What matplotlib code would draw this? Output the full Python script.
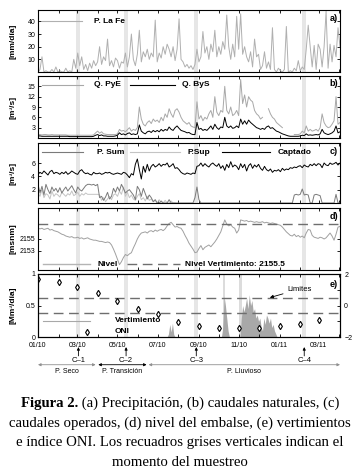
import numpy as np
import matplotlib
matplotlib.use("Agg")
import matplotlib.pyplot as plt
import matplotlib.dates as mdates
from matplotlib.transforms import blended_transform_factory

plt.rcParams['font.family'] = ['Liberation Sans', 'DejaVu Sans']
plt.rcParams['font.size'] = 5.5

start = np.datetime64('2010-01-01')
x_end = np.datetime64('2011-04-02')

precip = [0, 2, 12, 0, 1, 0, 0, 2, 0, 4,
          0, 1, 0, 0, 3, 0, 1, 0, 10, 3,
          15, 5, 12, 2, 6, 1, 7, 3, 9, 5,
          8, 20, 6, 12, 9, 26, 5, 9, 4, 11,
          9, 3, 8, 7, 15, 4, 12, 30, 10, 5,
          14, 33, 8, 16, 12, 18, 10, 15, 12, 41,
          8, 15, 11, 20, 14, 22, 18, 12, 20, 9,
          18, 42, 10, 8, 4, 6, 3, 5, 2, 6,
          18, 8, 12, 32, 15, 20, 10, 22, 16, 33,
          12, 20, 14, 24, 18, 45, 20, 10, 22, 12,
          44, 18, 46, 14, 20, 12, 8, 16, 4, 26,
          12, 14, 2, 5, 16, 3, 8, 2, 35, 2,
          0, 3, 1, 0, 2, 36, 0, 1, 0, 3,
          1, 9, 1, 4, 2, 18, 37, 20, 4, 21,
          2, 22, 18, 4, 20, 48, 3, 22, 8, 21,
          12, 35, 20]

q_pye = [1.0, 1.0, 0.9, 1.0, 1.0, 0.9, 0.9, 1.0, 0.9, 0.9,
         0.9, 0.9, 0.9, 0.9, 0.9, 0.8, 0.8, 0.8, 0.8, 0.8,
         0.8, 0.8, 0.8, 0.8, 0.8, 0.8, 0.8, 0.8, 0.9, 1.5,
         2.0, 1.4, 1.8, 1.2, 1.1, 1.0, 1.0, 1.0, 1.0, 1.0,
         1.2, 2.5, 2.0, 2.2, 1.8, 2.4, 3.0, 2.0, 2.5, 2.2,
         3.0, 9.0, 5.5, 4.0, 3.5, 4.5, 5.0, 4.2, 5.5, 4.8,
         5.2, 4.5, 6.0, 5.0, 7.0, 6.0, 8.5, 7.0, 6.0, 8.0,
         8.5, 7.5, 6.0, 5.0, 4.5, 4.0, 4.5, 3.5, 3.2, 3.0,
         10.5, 5.5, 6.5, 5.0, 6.0, 5.5, 7.0, 8.0, 6.0, 12.0,
         7.5, 6.5, 8.0, 7.5, 15.0, 8.0, 7.0, 9.0, 6.5, 7.0,
         8.0, 6.5, 17.0, 10.0, 12.5, 9.0, 12.0, 11.0, 10.5, 8.0,
         7.0, 6.5, 5.5, 6.0, np.nan, np.nan, 8.5, 7.0, 6.0, 5.5,
         4.5, 4.0, 3.5, 3.0, np.nan, np.nan, np.nan, np.nan, np.nan, 1.0,
         1.0, 1.0, 1.2, 2.0, 1.5, 3.5, 2.0, 2.5, 2.0, 2.2,
         2.5, 2.0, 3.0, 7.0, 4.5, 3.5, 3.0, 3.2, 4.0, 5.0,
         12.0, 4.0, 4.5]

q_bys = [0.6, 0.6, 0.5, 0.5, 0.5, 0.5, 0.5, 0.5, 0.5, 0.5,
         0.5, 0.5, 0.5, 0.5, 0.5, 0.5, 0.4, 0.4, 0.4, 0.4,
         0.4, 0.4, 0.4, 0.4, 0.4, 0.4, 0.4, 0.4, 0.5, 0.8,
         1.0, 0.7, 0.9, 0.6, 0.6, 0.5, 0.5, 0.5, 0.5, 0.6,
         0.8, 1.5, 1.0, 1.2, 0.9, 1.3, 1.5, 1.0, 1.2, 1.0,
         1.2, 3.8, 2.0, 1.5, 1.2, 1.8, 2.0, 1.6, 2.2, 1.8,
         2.2, 1.8, 2.5, 2.0, 2.5, 2.2, 3.2, 2.5, 2.2, 3.0,
         3.5, 2.8, 2.2, 2.0, 1.8, 1.5, 1.6, 1.2, 1.0, 1.0,
         4.5, 2.5, 2.8, 2.2, 2.5, 2.2, 2.8, 3.5, 2.5, 4.0,
         3.0, 2.5, 3.2, 3.0, 6.0, 3.5, 3.0, 3.5, 2.8, 3.0,
         3.5, 3.0, 5.5, 4.0, 5.0, 4.0, 5.2, 4.5, 4.0, 3.5,
         3.0, 2.8, 2.5, 2.8, 2.5, 3.2, 3.5, 2.8, 3.0, 2.5,
         2.0, 1.8, 1.5, 1.2, 1.0, 0.8, 0.6, 0.5, 0.5, 0.5,
         0.5, 0.5, 0.6, 0.8, 0.7, 1.2, 0.8, 0.9, 0.8, 0.9,
         1.0, 0.9, 1.2, 2.5, 1.5, 1.2, 1.0, 1.2, 1.5, 2.0,
         3.5, 1.5, 1.8]

captado = [4.3, 4.6, 4.4, 4.8, 4.5, 4.2, 4.7, 4.9, 4.4, 4.6,
           4.5, 4.3, 4.6, 4.4, 4.7, 4.3, 4.5, 4.8, 4.6, 4.4,
           4.3, 4.8, 5.0, 4.6, 4.4, 4.5, 4.3, 4.2, 4.6, 4.4,
           4.4, 4.5, 4.3, 4.4, 4.6, 4.5, 4.6, 4.4, 4.3, 4.4,
           4.5, 4.4, 4.3, 4.6, 4.5, 4.2, 3.8, 4.4, 4.2, 5.8,
           6.6, 5.0, 3.6, 5.5, 4.6, 5.8, 4.8, 5.5, 5.8, 5.4,
           5.6, 5.9, 5.5, 5.8, 5.7, 6.0, 5.4, 5.6, 5.9, 5.2,
           5.3, 5.0, 4.6, 4.4, 4.3, 4.5, 4.4, 4.3, 4.5, 4.4,
           5.5, 5.6, 6.0, 5.5, 5.9, 5.6, 5.4, 5.8, 6.0, 5.7,
           5.5, 5.9, 5.2, 5.6, 4.9, 5.8, 5.3, 6.2, 5.4, 5.7,
           5.5, 5.0, 5.9, 5.3, 5.8, 4.8, 5.6, 5.9, 5.2, 5.7,
           5.4, 5.8, 5.2, 4.9, 5.5, 5.0, 4.8, 5.1, 4.6, 4.9,
           4.8, 5.0, 4.7, 5.2, 4.9, 5.1, 5.0, 5.3, 5.2, 5.4,
           5.3, 5.5, 5.6, 5.3, 5.7, 5.5, 5.4, 5.8, 5.6, 5.9,
           5.6, 5.9, 5.8, 5.3, 6.0, 5.7, 5.6, 6.0, 5.8, 5.9,
           6.1, 5.7, 6.0]

p_sum = [2.8, 1.5, 2.5, 1.2, 2.8, 2.0, 1.4, 2.4, 1.8, 2.2,
         1.6, 2.3, 1.5, 2.0, 2.4, 1.8, 2.2, 2.6, 2.0, 1.5,
         2.4, 2.0, 1.8, 2.2, 2.6, 2.8, 2.8, 2.7, 2.8, 2.6,
         2.8, 0.8, 1.0, 0.4, 0.9, 1.6, 0.6, 1.0, 2.2, 1.6,
         2.4, 1.8, 2.8, 2.2, 1.5, 1.8, 2.0, 1.6, 1.2, 0.5,
         2.5, 2.0, 1.0, 2.2, 1.4, 0.6, 1.2, 0.8, 0.2, 0.5,
         0, 0, 0.3, 0, 0, 0, 0.5, 0, 0, 0,
         0, 0, 0, 0, 0, 0, 0, 0, 0, 0.8,
         2.4, 0.5, 0, 0, 0, 0, 0, 0, 0, 0,
         0, 0, 0, 0, 0, 0, 0, 0, 0, 0,
         0, 0, 0, 0, 0, 0, 0, 0, 0, 0,
         0, 0, 0, 0, 0, 0, 0, 0, 0, 0,
         0, 0, 0, 0, 0, 0, 0, 0, 0, 1.2,
         1.3, 1.2, 1.3, 2.1, 1.2, 1.3, 1.2, 0, 0, 1.2,
         1.3, 1.2, 1.1, 0, 0, 0, 0, 0, 0, 0,
         1.3, 0, 0]

p_sup = [1.5, 1.0, 2.0, 0.8, 1.4, 1.2, 0.6, 1.8, 1.0, 1.4,
         1.2, 0.9, 1.6, 1.3, 1.0, 1.4, 1.2, 1.8, 1.1, 1.3,
         1.6, 1.0, 1.4, 1.2, 1.5, 1.3, 1.3, 1.3, 1.3, 1.3,
         1.3, 1.2, 0.4, 0.8, 0.2, 0.6, 1.0, 0.5, 1.2, 1.4,
         1.0, 1.8, 1.3, 2.4, 1.0, 1.6, 0.8, 1.2, 0.6, 0.4,
         1.0, 1.4, 0.5, 0.8, 0.3, 1.0, 0.4, 0.6, 0.2, 0.4,
         0, 0.5, 0, 0, 0.4, 0, 0, 0.3, 0, 0]

nivel = [2156.8, 2156.7, 2156.8, 2156.6, 2156.7, 2156.8, 2156.5, 2156.6, 2156.4, 2156.3, 2156.2,
         2156.0, 2155.8, 2155.7, 2155.5, 2155.4, 2155.3, 2155.4, 2155.2,
         2155.2, 2155.3, 2155.1, 2155.2, 2155.0, 2155.1, 2155.2, 2155.0, 2154.9, 2154.8, 2154.8,
         2154.7, 2154.6, 2154.6, 2154.5, 2154.4, 2154.5, 2154.4,
         2154.0, 2153.3, 2152.5, 2151.6, 2150.7,
         2151.2, 2151.9, 2152.4, 2152.2, 2152.5,
         2152.7, 2153.5, 2154.2,
         2155.0, 2155.6, 2156.0, 2156.1,
         2156.2, 2156.0, 2156.3, 2156.4, 2156.2, 2156.5, 2156.3, 2156.5, 2156.6, 2156.4, 2156.7,
         2157.2, 2157.6, 2157.8, 2157.4,
         2157.0, 2157.1, 2156.9, 2156.8,
         2156.3, 2155.6, 2155.0, 2154.3, 2153.8, 2153.3,
         2152.7, 2152.8,
         2153.4, 2153.9, 2153.2, 2153.6, 2153.8, 2154.0, 2153.7, 2154.1,
         2154.5, 2155.0, 2155.6,
         2156.2, 2157.2, 2158.2,
         2157.5, 2157.2, 2157.4, 2157.0, 2156.8, 2156.0, 2156.5,
         2158.2,
         2158.1, 2158.0, 2158.1, 2157.9, 2158.0, 2157.9, 2157.8, 2157.9, 2157.8, 2157.8,
         2157.9, 2157.7, 2157.8, 2157.7, 2157.6, 2157.7, 2157.6, 2157.5, 2157.4, 2157.3,
         2157.0, 2156.6, 2156.2, 2155.9, 2155.6,
         2155.5, 2155.8, 2155.4, 2155.6, 2155.3, 2155.5, 2155.2,
         2156.0, 2156.6, 2156.5,
         2155.6, 2155.3, 2155.2, 2155.1, 2155.3, 2155.2, 2155.0, 2155.2,
         2155.6, 2156.0, 2155.5,
         2154.8,
         2155.8, 2157.0, 2157.1]
nivel_vert = 2157.5  # dashed line as drawn on the axis

# spill, every 2 days from 15/07/2010
vert_start = np.datetime64('2010-07-15')
vert = [0, 0.05, 0.2, 0.08, 0.22, 0.04,
        0, 0, 0, 0, 0, 0, 0, 0, 0, 0, 0, 0, 0, 0, 0, 0, 0, 0,
        0, 0, 0, 0, 0, 0, 0, 0, 0, 0, 0, 0, 0, 0, 0, 0, 0, 0,
        0.15, 0.65, 0.5, 0.3, 0.1, 0,
        0, 0, 0, 0, 0, 0, 0, 0,
        0.3, 0.5, 0.4, 0.5, 0.62, 0.45, 0.67, 0.5, 0.58, 0.4,
        0.45, 0.3, 0.35, 0.25, 0.3, 0.15, 0.1, 0.3, 0.2,
        0.35, 0.3, 0.22, 0.3, 0.15, 0.2, 0.1, 0.05, 0]
# days where the spill runs off the top of the scale
vert_off = np.array(['2010-10-09', '2010-11-03'], dtype='datetime64[D]')

oni_dates = np.arange(np.datetime64('2010-01'), np.datetime64('2011-04'),
                      np.timedelta64(1, 'M')).astype('datetime64[D]')
oni = [1.68, 1.47, 1.19, 0.77, 0.30, -0.22, -0.56, -1.03, -1.30, -1.41,
       -1.41, -1.41, -1.30, -1.19, -0.92]
oni_lim = [0.5, -0.5]

samples = ['C–1', 'C–2', 'C–3', 'C–4']
sample_dates = np.array(['2010-03-03', '2010-05-14', '2010-08-28', '2011-02-07'],
                        dtype='datetime64[D]')
periods = ['P. Seco', 'P. Transición', 'P. Lluvioso']
period_start = np.array(['2010-01-01', '2010-04-02', '2010-06-17'], dtype='datetime64[D]')
period_end = np.array(['2010-03-29', '2010-06-14', '2011-04-02'], dtype='datetime64[D]')


def days(n, t0=start, step=3):
    return t0 + np.arange(n) * step


W, H = 360, 469
fig = plt.figure(figsize=(W / 100, H / 100), dpi=100)
rows = [(10, 72), (76, 138), (143, 203), (208, 270), (274, 337)]
axes = [fig.add_axes([38 / W, 1 - b / H, 302 / W, (b - t) / H]) for t, b in rows]


def base(ax):
    ax.set_xlim(start, x_end)
    ax.xaxis.set_major_locator(mdates.MonthLocator(bymonth=[1, 3, 5, 7, 9, 11]))
    ax.xaxis.set_minor_locator(mdates.MonthLocator())
    ax.xaxis.set_major_formatter(mdates.DateFormatter('%m/%y'))
    ax.tick_params(which='both', direction='in', top=True, right=True,
                   length=2.5, width=0.6, labelsize=5, pad=2)
    ax.tick_params(axis='x', pad=3.5)
    for s in ax.spines.values():
        s.set_linewidth(0.8)
    for d in sample_dates:
        ax.axvspan(d - np.timedelta64(3, 'D'), d + np.timedelta64(3, 'D'),
                   color='#e6e6e6', lw=0, zorder=0)


def legend(ax, y, items):
    # items: (x0, x1, xtext, label, line kwargs) in pixels of the figure
    for x0, x1, xt, lab, kw in items:
        ax.plot([(x0 - 38) / 302, (x1 - 38) / 302], [y, y], transform=ax.transAxes, **kw)
        ax.text((xt - 38) / 302, y, lab, transform=ax.transAxes, va='center',
                fontsize=6, fontweight='bold')


def letter(ax, s, y):
    ax.text(0.993, y, s, transform=ax.transAxes, ha='right', va='center',
            fontsize=6.5, fontweight='bold')


for ax in axes:
    base(ax)
for ax in axes[:4]:
    ax.tick_params(labelbottom=False)

# a) precipitation
ax = axes[0]
ax.plot(days(len(precip)), precip, color='#b0b0b0', lw=0.7)
ax.set_ylim(0, 49)
ax.set_yticks([10, 20, 30, 40])
legend(ax, 0.82, [(42, 82, 94, 'P. La Fe', dict(color='#b0b0b0', lw=0.8))])
letter(ax, 'a)', 0.87)

# b) natural flows
ax = axes[1]
ax.plot(days(len(q_pye)), q_pye, color='#a8a8a8', lw=0.7)
ax.plot(days(len(q_bys)), q_bys, color='black', lw=0.7)
ax.set_ylim(0, 18)
ax.set_yticks([3, 6, 9, 12, 15])
legend(ax, 0.86, [(42, 83, 94, 'Q. PyE', dict(color='#a8a8a8', lw=0.8)),
                  (130, 175, 182, 'Q. ByS', dict(color='black', lw=0.8))])
letter(ax, 'b)', 0.88)

# c) operated flows
ax = axes[2]
ax.plot(days(len(p_sup)), p_sup, color='#c4c4c4', lw=0.7)
ax.plot(days(len(p_sum)), p_sum, color='#7a7a7a', lw=0.7)
ax.plot(days(len(captado)), captado, color='black', lw=0.7)
ax.set_ylim(0, 9)
ax.set_yticks([2, 4, 6])
legend(ax, 0.85, [(42, 83, 97, 'P. Sum', dict(color='#7a7a7a', lw=0.8)),
                  (130, 180, 188, 'P.Sup', dict(color='#c4c4c4', lw=0.8)),
                  (222, 270, 278, 'Captado', dict(color='black', lw=0.8))])
letter(ax, 'c)', 0.85)

# d) reservoir level
ax = axes[3]
ax.plot(days(len(nivel)), nivel, color='#a0a0a0', lw=0.7)
ax.axhline(nivel_vert, color='#6e6e6e', lw=1.0, ls=(0, (7, 4)))
ax.set_ylim(2149.8, 2160.2)
ax.set_yticks([2153, 2155])
legend(ax, 0.09, [(43, 90, 98, 'Nivel', dict(color='#b4b4b4', lw=1.0)),
                  (127, 180, 185, 'Nivel Vertimiento: 2155.5',
                   dict(color='#6e6e6e', lw=1.0, ls=(0, (7, 4))))])
letter(ax, 'd)', 0.86)

# e) spill and ONI
ax = axes[4]
for d in vert_off:
    ax.axvspan(d - np.timedelta64(2, 'D'), d + np.timedelta64(2, 'D'),
               color='#dcdcdc', lw=0, zorder=0)
ax.fill_between(days(len(vert), vert_start, 2), vert, color='#a8a8a8', lw=0)
ax.set_ylim(0, 1)
ax.set_yticks([0, 0.5, 1])
ax.set_yticklabels(['0', '0.5', '1'])
ax.tick_params(right=False)
ax2 = ax.twinx()
ax2.set_ylim(-2, 2)
ax2.set_yticks([-2, -1, 0, 1, 2])
ax2.set_yticklabels(['−2', '', '0', '', '2'])
ax2.tick_params(direction='in', length=2.5, width=0.6, labelsize=5, pad=3)
for v in oni_lim:
    ax2.axhline(v, color='#6e6e6e', lw=1.0, ls=(0, (7, 4)))
ax2.plot(oni_dates, oni, 'd', mfc='white', mec='black', ms=3.2, mew=0.8)
ax2.annotate('Limites', xy=(np.datetime64('2010-12-17'), 0.5),
             xytext=(0.825, 0.76), textcoords='axes fraction', va='center', fontsize=5.5,
             arrowprops=dict(arrowstyle='-|>', color='black', lw=0.6, mutation_scale=5,
                             shrinkA=1, shrinkB=0))
ax.plot([(43 - 38) / 302, (90 - 38) / 302], [0.254, 0.254], transform=ax.transAxes,
        color='#a8a8a8', lw=0.8)
ax.text((115 - 38) / 302, 0.254, 'Vertimiento', transform=ax.transAxes, va='center',
        fontsize=6, fontweight='bold')
ax.plot([(87 - 38) / 302], [0.08], 'd', transform=ax.transAxes, mfc='white',
        mec='black', ms=3.2, mew=0.8, clip_on=False, zorder=5)
ax.text((115 - 38) / 302, 0.08, 'ONI', transform=ax.transAxes, va='center',
        fontsize=6, fontweight='bold')
letter(ax, 'e)', 0.84)

# sampling campaigns and periods under the last panel
tr = blended_transform_factory(ax.transData, ax.transAxes)
for d, lab in zip(sample_dates, samples):
    ax.annotate('', xy=(d, -0.16), xytext=(d, -0.30), xycoords=tr, textcoords=tr,
                annotation_clip=False,
                arrowprops=dict(arrowstyle='-|>', color='black', lw=0.6, mutation_scale=4,
                                shrinkA=0, shrinkB=0))
    ax.text(d, -0.37, lab, transform=tr, ha='center', va='center', fontsize=5.5)
for a, b, lab, c in zip(period_start, period_end, periods, ['#909090', 'black', '#909090']):
    ax.annotate('', xy=(a, -0.44), xytext=(b, -0.44), xycoords=tr, textcoords=tr,
                annotation_clip=False,
                arrowprops=dict(arrowstyle='<|-|>', color=c, lw=0.6, mutation_scale=4,
                                shrinkA=0, shrinkB=0))
    mid = a + (b - a) // 2
    ax.text(mid, -0.555, lab, transform=tr, ha='center', va='center', fontsize=5)

# y labels
for (t, b), lab in zip(rows, ['[mm/día]', '[m³/s]', '[m³/s]', '[msnm]', '[Mm³/día]']):
    fig.text(13 / W, 1 - (t + b) / 2 / H, lab, rotation=90, ha='center', va='center',
             fontsize=6, fontweight='bold')

# caption
serif = ['Liberation Serif', 'DejaVu Serif']
cfs = 10.6
r = fig.canvas.get_renderer()
y1 = 1 - 403 / H
t1 = fig.text(0, y1, 'Figura 2.', family=serif, fontsize=cfs, fontweight='bold', va='center')
t2 = fig.text(0, y1, ' (a) Precipitación, (b) caudales naturales, (c)', family=serif,
              fontsize=cfs, va='center')
w1 = t1.get_window_extent(r).width
w2 = t2.get_window_extent(r).width
x0 = (W - w1 - w2) / 2
t1.set_x(x0 / W)
t2.set_x((x0 + w1) / W)
cap = ['caudales operados, (d) nivel del embalse, (e) vertimientos',
       'e índice ONI. Los recuadros grises verticales indican el',
       'momento del muestreo']
for i, line in enumerate(cap):
    fig.text(0.5, 1 - (423 + 19.7 * i) / H, line, family=serif, fontsize=cfs,
             ha='center', va='center')

fig.savefig('out.png', dpi=100)
